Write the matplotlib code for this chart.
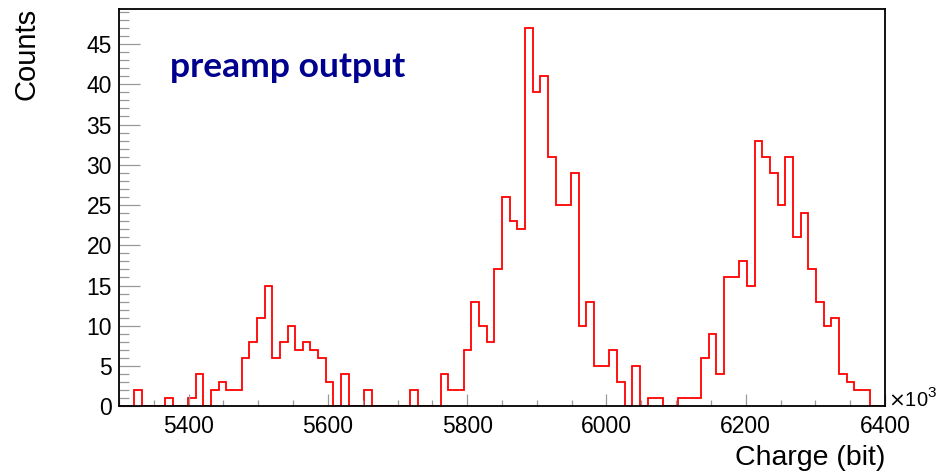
"""
Charge spectrum of the preamp output, drawn ROOT-style.
"""

import numpy as np
import matplotlib
matplotlib.use("Agg")
import matplotlib.pyplot as plt
from matplotlib.ticker import MultipleLocator

# ---------------------------------------------------------------------------
# Data (100 bins from 5300 to 6400, x10^3)
# ---------------------------------------------------------------------------
X_MIN   = 5300
X_MAX   = 6400
N_BINS  = 100

COUNTS = [
    0, 0, 2, 0, 0, 0, 1, 0, 0, 1,
    4, 0, 2, 3, 2, 2, 6, 8, 11, 15,
    6, 8, 10, 7, 8, 7, 6, 3, 0, 4,
    0, 0, 2, 0, 0, 0, 0, 0, 2, 0,
    0, 0, 4, 2, 2, 7, 13, 10, 8, 17,
    26, 23, 22, 47, 39, 41, 31, 25, 25, 29,
    10, 13, 5, 5, 7, 3, 0, 5, 0, 1,
    1, 0, 0, 1, 1, 1, 6, 9, 4, 16,
    16, 18, 15, 33, 31, 29, 25, 31, 21, 24,
    17, 13, 10, 11, 4, 3, 2, 2, 0, 0,
]

X_TICKS = [5400, 5600, 5800, 6000, 6200, 6400]
Y_TICKS = [0, 5, 10, 15, 20, 25, 30, 35, 40, 45]

TITLE_TEXT = "preamp output"
X_TITLE    = "Charge (bit)"
Y_TITLE    = "Counts"

# ---------------------------------------------------------------------------
# Plot
# ---------------------------------------------------------------------------
W, H = 938, 474
plt.rcParams["font.family"] = ["Liberation Sans", "DejaVu Sans"]

fig = plt.figure(figsize=(W / 100, H / 100), dpi=100)
ax = fig.add_axes([119 / W, 1 - 406.3 / H, (885 - 119) / W, (406.3 - 9) / H])

edges = np.linspace(X_MIN, X_MAX, N_BINS + 1)
ax.stairs(COUNTS, edges, color="red", linewidth=1.3)

ax.set_xlim(X_MIN, X_MAX)
ax.set_ylim(0, max(COUNTS) * 1.05)

ax.set_xticks(X_TICKS)
ax.set_yticks(Y_TICKS)
ax.xaxis.set_minor_locator(MultipleLocator(50))
ax.yaxis.set_minor_locator(MultipleLocator(1))

ax.tick_params(axis="both", which="both", direction="in", colors="0.6",
               labelcolor="black", labelsize=16.5, width=0.9)
ax.tick_params(axis="y", which="major", length=15, pad=5)
ax.tick_params(axis="y", which="minor", length=7.5)
ax.tick_params(axis="x", which="major", length=9, pad=6)
ax.tick_params(axis="x", which="minor", length=4.5)

for sp in ax.spines.values():
    sp.set_color("black")
    sp.set_linewidth(1.3)

# axis titles, ROOT-style at the axis ends
fig.text(27 / W, 1 - 8 / H, Y_TITLE, rotation=90, ha="center", va="top",
         fontsize=21)
fig.text(885 / W, 1 - 458 / H, X_TITLE, ha="right", va="center", fontsize=20.5)

# axis multiplier: "x10" with a raised "3"
fig.text(888 / W, 1 - 401 / H, r"$\times$10", ha="left", va="center",
         fontsize=14.5)
fig.text(927 / W, 1 - 393 / H, "3", ha="left", va="center", fontsize=11)

fig.text(170 / W, 1 - 67 / H, TITLE_TEXT, ha="left", va="center",
         fontsize=25.5, fontweight="bold", color="#00008f",
         family=["Lato", "DejaVu Sans"])

fig.savefig("out.png", dpi=100)
